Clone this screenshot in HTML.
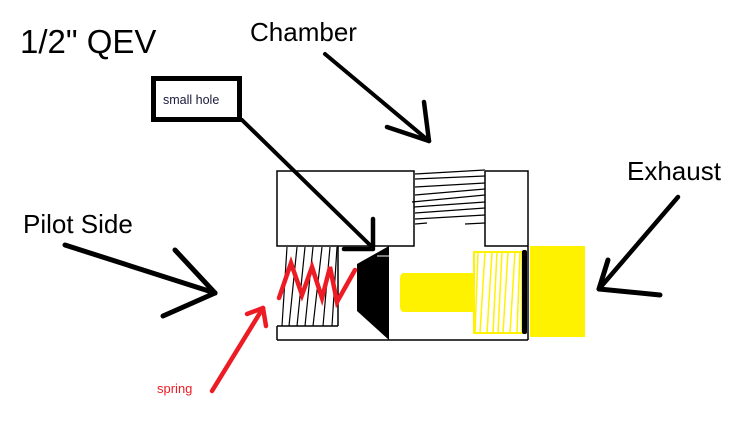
<!DOCTYPE html>
<html><head><meta charset="utf-8"><style>
html,body{margin:0;padding:0;background:#fff;}
svg{display:block;}
text{font-family:"Liberation Sans",Arial,sans-serif;}
</style></head><body>
<svg width="745" height="426" viewBox="0 0 745 426" xmlns="http://www.w3.org/2000/svg">
<rect width="745" height="426" fill="#fff"/>
<!-- Texts -->
<text x="20" y="53" font-size="33" fill="#000">1/2" QEV</text>
<text x="250" y="41" font-size="26" fill="#000">Chamber</text>
<text x="23" y="233" font-size="26" fill="#000">Pilot Side</text>
<text x="627" y="180" font-size="26" fill="#000">Exhaust</text>
<text x="157" y="393" font-size="13" fill="#ed1c24">spring</text>

<!-- small hole box -->
<rect x="153.5" y="78.5" width="86" height="41" fill="none" stroke="#000" stroke-width="5"/>
<text x="163" y="104" font-size="12.5" fill="#1a1a3a">small hole</text>

<!-- body outlines -->
<g stroke="#000" stroke-width="1.5" fill="none">
  <path d="M277 171 H414 V246 H277 Z"/>
  <path d="M485 171 H528 V340 M485 171 V246 H528"/>
  <path d="M277 340 H528"/>
  <path d="M277 326 H338 M277 326 V340"/>
  <path d="M338 246 V326"/>
</g>
<!-- upper threads -->
<g stroke="#000" stroke-width="1.2">
  <line x1="415" y1="174" x2="485" y2="170"/>
  <line x1="415" y1="179" x2="485" y2="176"/>
  <line x1="415" y1="187" x2="485" y2="183"/>
  <line x1="415" y1="195" x2="485" y2="189"/>
  <line x1="412" y1="202" x2="485" y2="195"/>
  <line x1="414" y1="207" x2="485" y2="202"/>
  <line x1="415" y1="213" x2="485" y2="208"/>
  <line x1="415" y1="219" x2="485" y2="215"/>
  <line x1="415" y1="224" x2="427" y2="223"/>
  <line x1="465" y1="224" x2="485" y2="223"/>
</g>
<!-- lower-left threads -->
<g stroke="#000" stroke-width="1.2">
  <line x1="287" y1="247" x2="282" y2="326"/>
  <line x1="297" y1="247" x2="289" y2="326"/>
  <line x1="305" y1="247" x2="297" y2="326"/>
  <line x1="313" y1="247" x2="305" y2="326"/>
  <line x1="322" y1="247" x2="313" y2="326"/>
  <line x1="330" y1="247" x2="323" y2="326"/>
  <line x1="337" y1="247" x2="332" y2="326"/>
</g>
<!-- red spring -->
<polyline points="279,298 291,263 302,295 312,267 322,298 330,267 337,302 355,270" fill="none" stroke="#ed1c24" stroke-width="4.5" stroke-linejoin="miter" stroke-linecap="round"/>

<!-- poppet -->
<polygon points="357,264 389,246 389,340 357,311" fill="#000"/>
<line x1="377" y1="256" x2="390" y2="256" stroke="#fff" stroke-width="1"/>

<!-- yellow stem & parts -->
<path d="M404 273 H473 V312 H404 Q400 312 400 306 V279 Q400 273 404 273 Z" fill="#fff200"/>
<rect x="474" y="252" width="48" height="81" fill="none" stroke="#fff200" stroke-width="2"/>
<g stroke="#fff200" stroke-width="1.5">
  <line x1="478" y1="252" x2="475" y2="333"/>
  <line x1="485" y1="252" x2="480" y2="333"/>
  <line x1="492" y1="252" x2="487" y2="333"/>
  <line x1="497" y1="252" x2="493" y2="333"/>
  <line x1="502" y1="252" x2="498" y2="333"/>
  <line x1="508" y1="252" x2="503" y2="333"/>
  <line x1="515" y1="252" x2="510" y2="333"/>
  <line x1="520" y1="252" x2="517" y2="333"/>
</g>
<rect x="530" y="246" width="55" height="91" fill="#fff200"/>
<rect x="522" y="250" width="5" height="84" rx="2" fill="#000"/>

<!-- black arrows -->
<g stroke="#000" stroke-linecap="round" fill="none">
  <!-- small hole -->
  <line x1="242" y1="120" x2="371" y2="246" stroke-width="4"/>
  <line x1="373" y1="219" x2="373" y2="247" stroke-width="4.5"/>
  <line x1="344" y1="249" x2="373" y2="249" stroke-width="4.5"/>
  <!-- chamber -->
  <line x1="325" y1="54" x2="429" y2="141" stroke-width="4"/>
  <line x1="424" y1="102" x2="429" y2="141" stroke-width="4.5"/>
  <line x1="387" y1="127" x2="429" y2="141" stroke-width="4.5"/>
  <!-- pilot -->
  <line x1="65" y1="245" x2="215" y2="293" stroke-width="5"/>
  <line x1="175" y1="250" x2="215" y2="293" stroke-width="5"/>
  <line x1="163" y1="316" x2="215" y2="293" stroke-width="5"/>
  <!-- exhaust -->
  <line x1="678" y1="197" x2="599" y2="289" stroke-width="4.5"/>
  <line x1="608" y1="260" x2="599" y2="289" stroke-width="5"/>
  <line x1="660" y1="295" x2="599" y2="289" stroke-width="5"/>
</g>
<!-- red spring arrow -->
<g stroke="#ed1c24" stroke-linecap="round" fill="none" stroke-width="4.5">
  <line x1="212" y1="391" x2="263" y2="308"/>
  <line x1="247" y1="314" x2="263" y2="308"/>
  <line x1="266" y1="326" x2="263" y2="308"/>
</g>
</svg>
</body></html>
